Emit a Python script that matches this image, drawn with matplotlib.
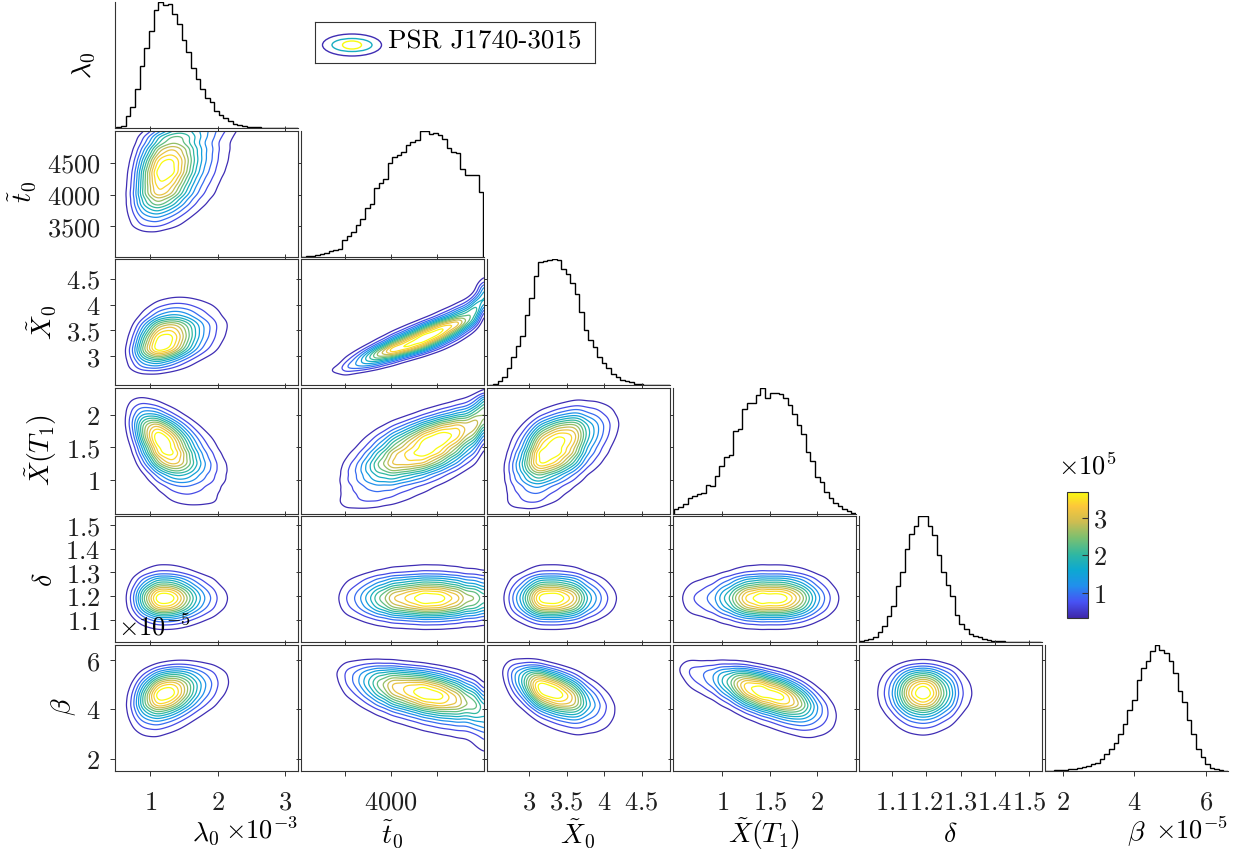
import numpy as np
import matplotlib.pyplot as plt
from matplotlib.colors import LinearSegmentedColormap, Normalize
from matplotlib.cm import ScalarMappable
from matplotlib.patches import Ellipse
from statistics import NormalDist

plt.rcParams['mathtext.fontset'] = 'cm'
plt.rcParams['font.family'] = 'DejaVu Serif'

labels = [r'$\lambda_0$', r'$\tilde{t}_0$', r'$\tilde{X}_0$', r'$\tilde{X}(T_1)$', r'$\delta$', r'$\beta$']

# marginal histograms (relative heights)
lam0_hist = [2, 7, 35, 63, 117, 185, 240, 290, 353, 377, 367, 371, 340, 312, 263, 228, 180, 147, 117, 90,
             77, 52, 38, 30, 20, 13, 9, 5, 3, 2, 1.5, 1, 1, 0.5, 0.5, 0.3, 0.2, 0.1, 0.1]
t0_hist = [0, 1, 2, 4, 7, 10, 16, 20, 24, 48, 62, 73, 95, 113, 146, 158, 203, 218, 230, 278,
           296, 302, 310, 333, 340, 348, 375, 375, 364, 367, 362, 350, 323, 312, 308, 260, 243, 243, 243, 193]
x0_hist = [0.5, 5, 13, 23, 50, 85, 117, 147, 210, 260, 325, 368, 369, 372, 375, 373, 345, 330, 305, 270,
           217, 163, 135, 115, 85, 65, 50, 32, 23, 15, 12, 9, 5, 3, 2, 1, 1, 0.5, 0.3, 0.2]
xt1_hist = [13, 22, 30, 47, 53, 60, 63, 87, 83, 115, 143, 170, 177, 250, 257, 317, 333, 335, 358, 380,
            350, 363, 363, 360, 350, 327, 300, 267, 240, 185, 160, 110, 95, 67, 47, 33, 23, 13, 7, 3]
delta_hist = [3, 7, 10, 17, 33, 50, 80, 110, 170, 215, 285, 330, 353, 383, 383, 355, 325, 265, 215, 175,
              140, 83, 57, 40, 27, 20, 15, 10, 7, 5, 4, 3, 2, 2, 1, 1, 1, 1, 0.5, 0.5]
beta_hist = [1, 1, 2, 2, 3, 5, 7, 10, 13, 15, 20, 25, 35, 50, 65, 83, 110, 140, 180, 210,
             270, 305, 325, 355, 372, 358, 348, 325, 290, 235, 205, 150, 110, 65, 40, 22, 10, 5, 2, 1]
hists = [lam0_hist, t0_hist, x0_hist, xt1_hist, delta_hist, beta_hist]

# first and last bin edge (lambda0 in 1e-3, beta in 1e-5)
hist_lo = [0.50, 3025, 2.46, 0.49, 1.005, 1.50]
hist_hi = [3.19, 5000, 4.88, 2.41, 1.535, 6.62]

# correlation of each pair, judged from the tilt of the contours
rho = np.array([
    [1.00, 0.30, 0.30, -0.50, 0.00, 0.30],
    [0.30, 1.00, 0.88, 0.62, 0.00, -0.45],
    [0.30, 0.88, 1.00, 0.45, 0.00, -0.50],
    [-0.50, 0.62, 0.45, 1.00, 0.00, -0.60],
    [0.00, 0.00, 0.00, 0.00, 1.00, 0.00],
    [0.30, -0.45, -0.50, -0.60, 0.00, 1.00]])

lims = [(0.48, 3.19), (3020, 5010), (2.44, 4.88), (0.48, 2.41), (1.004, 1.537), (1.5, 6.62)]
ticks = [[1, 2, 3], [3500, 4000, 4500], [3, 3.5, 4, 4.5], [1, 1.5, 2],
         [1.1, 1.2, 1.3, 1.4, 1.5], [2, 4, 6]]
xticklabels = [['1', '2', '3'], ['', '4000', ''], ['3', '3.5', '4', '4.5'], ['1', '1.5', '2'],
               ['1.1', '1.2', '1.3', '1.4', '1.5'], ['2', '4', '6']]
yticklabels = [None, ['3500', '4000', '4500'], ['3', '3.5', '4', '4.5'], ['1', '1.5', '2'],
               ['1.1', '1.2', '1.3', '1.4', '1.5'], ['2', '4', '6']]

parula = LinearSegmentedColormap.from_list('parula', [
    (0.000, (0.2422, 0.1504, 0.6603)), (0.127, (0.2810, 0.3228, 0.9579)),
    (0.254, (0.1300, 0.5600, 0.9300)), (0.381, (0.0500, 0.6600, 0.8200)),
    (0.508, (0.1900, 0.7200, 0.6300)), (0.635, (0.4800, 0.7500, 0.4400)),
    (0.762, (0.8000, 0.7400, 0.3200)), (0.889, (0.9900, 0.7800, 0.2300)),
    (1.000, (0.9763, 0.9831, 0.0538))])

inv_norm = np.vectorize(NormalDist().inv_cdf)


def marginal(k, x):
    h = np.asarray(hists[k], float)
    edges = np.linspace(hist_lo[k], hist_hi[k], len(h) + 1)
    w = edges[1] - edges[0]
    centers = (edges[:-1] + edges[1:]) / 2
    pdf = np.interp(x, centers, h) / (h.sum() * w)
    pdf[(x < edges[0] - w / 2) | (x > edges[-1] + w / 2)] = 0
    cdf = np.interp(x, edges, np.concatenate([[0], np.cumsum(h)]) / h.sum())
    return pdf, inv_norm(np.clip(cdf, 0.005, 0.995))


def blur(Z, s=3.0):
    k = np.exp(-0.5 * (np.arange(-9, 10) / s) ** 2)
    k /= k.sum()
    P = np.pad(Z, 9, mode='edge')
    P = np.apply_along_axis(lambda v: np.convolve(v, k, mode='valid'), 0, P)
    P = np.apply_along_axis(lambda v: np.convolve(v, k, mode='valid'), 1, P)
    return P


def density(i, j):
    x = np.linspace(*lims[j], 160)
    y = np.linspace(*lims[i], 160)
    px, a = marginal(j, x)
    py, b = marginal(i, y)
    r = rho[i, j]
    A, B = np.meshgrid(a, b)
    c = np.exp(-(r * r * (A * A + B * B) - 2 * r * A * B) / (2 * (1 - r * r))) / np.sqrt(1 - r * r)
    return x, y, blur(py[:, None] * px[None, :] * c)


W, H = 1240.0, 856.0
fig = plt.figure(figsize=(12.4, 8.56), dpi=100)
axcol = '0.2'
tfs = 19
n = 6
nlev = 13


def add(i, j):
    left = 115 + 186 * j
    top = 2 + 128.6 * i
    return fig.add_axes([left / W, 1 - (top + 126) / H, 183 / W, 126 / H])


def mt(lst):
    return ['$%s$' % s if s else '' for s in lst]


for i in range(n):
    for j in range(i + 1):
        ax = add(i, j)
        for s in ax.spines.values():
            s.set_color(axcol)
            s.set_linewidth(0.8)
        ax.tick_params(direction='out', length=3.6, width=0.7, color=axcol,
                       labelsize=tfs, labelcolor='0.12')
        if i == j:
            h = np.asarray(hists[i], float)
            edges = np.linspace(hist_lo[i], hist_hi[i], len(h) + 1)
            ax.stairs(h, edges, color='k', linewidth=1.0, baseline=0)
            ax.set_ylim(0, h.max())
            ax.spines['top'].set_visible(False)
            ax.spines['right'].set_visible(False)
            ax.set_yticks([])
        else:
            x, y, Z = density(i, j)
            lv = Z.max() * np.arange(1, nlev + 1) / (nlev + 1)
            ax.contour(x, y, Z, levels=lv, colors=parula(np.linspace(0.02, 1, nlev)), linewidths=0.9)
            ax.set_ylim(*lims[i])
            ax.set_yticks(ticks[i])
            ax.tick_params(top=True, right=True)
            if j == 0:
                ax.set_yticklabels(mt(yticklabels[i]))
            else:
                ax.set_yticklabels([])
        ax.set_xlim(*lims[j])
        ax.set_xticks(ticks[j])
        if i == n - 1:
            ax.set_xticklabels(mt(xticklabels[j]))
            ax.tick_params(axis='x', pad=10)
        else:
            ax.set_xticklabels([])
        if j == 0 and i > 0:
            ax.tick_params(axis='y', pad=7)

# axis labels
ylab_pos = [(84, 65), (22, 192), (42, 322), (41, 450), (44, 580), (64, 707)]
for k, (px, py) in enumerate(ylab_pos):
    fig.text(px / W, 1 - py / H, labels[k], rotation=90, ha='center', va='center', fontsize=20)
for j in range(n):
    fig.text((206 + 186 * j) / W, 1 - 834 / H, labels[j], ha='center', va='center', fontsize=20)
fig.text(298 / W, 1 - 830 / H, r'$\times10^{-3}$', ha='right', va='center', fontsize=tfs)
fig.text(1228 / W, 1 - 830 / H, r'$\times10^{-5}$', ha='right', va='center', fontsize=tfs)
fig.text(118 / W, 1 - 627 / H, r'$\times10^{-5}$', ha='left', va='center', fontsize=tfs)

# colorbar
cax = fig.add_axes([1067 / W, 1 - 618 / H, 21 / W, 126 / H])
cb = fig.colorbar(ScalarMappable(Normalize(0.33, 3.69), parula), cax=cax, ticks=[1, 2, 3])
cb.ax.set_yticklabels(['$1$', '$2$', '$3$'])
cb.ax.tick_params(direction='in', length=4, labelsize=tfs, color=axcol, labelcolor='0.12')
cb.outline.set_edgecolor(axcol)
fig.text(1087 / W, 1 - 466 / H, r'$\times10^{5}$', ha='center', va='center', fontsize=tfs)

# legend
lax = fig.add_axes([315 / W, 1 - 63 / H, 280 / W, 41 / H])
lax.set_xlim(0, 280)
lax.set_ylim(0, 41)
lax.set_xticks([])
lax.set_yticks([])
for s in lax.spines.values():
    s.set_color(axcol)
for (w, hh, f) in [(59, 22, 0.02), (40, 13, 0.42), (19, 8, 1.0)]:
    lax.add_patch(Ellipse((37, 18), w, hh, fill=False, edgecolor=parula(f), linewidth=1.0))
lax.text(73, 21, 'PSR J1740-3015', family='cmr10', fontsize=19.5, va='center', ha='left')

fig.savefig('out.png', dpi=100)
